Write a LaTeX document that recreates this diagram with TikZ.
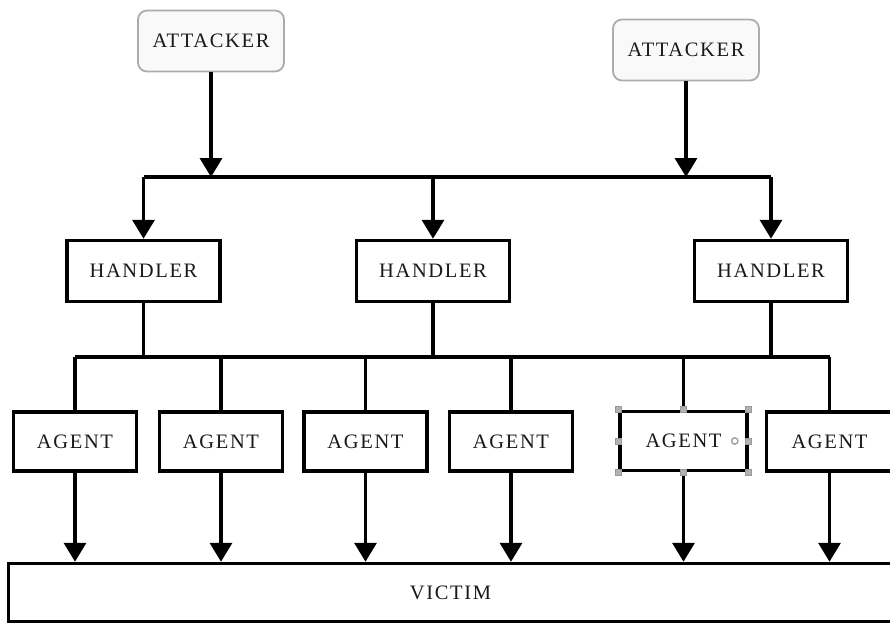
\documentclass[tikz,border=0pt]{standalone}
\usepackage{fontspec}
\setmainfont{Liberation Serif}[LetterSpace=8]
\usetikzlibrary{arrows.meta}
\begin{document}
\begin{tikzpicture}[x=1pt,y=-1pt,
  every node/.style={font=\fontsize{20.5}{24}\selectfont, text=black!90},
  conn/.style={line width=3.5pt, draw=black},
  arr/.style={conn, -{Triangle[width=22pt,length=19pt]}},
  attackerbox/.style={draw=gray!65, line width=1.8pt, fill=gray!5, rounded corners=9pt,
    minimum width=146pt, minimum height=61pt, inner sep=0pt},
  handlerbox/.style={draw=black, line width=3.5pt, fill=white,
    minimum width=153pt, minimum height=61pt, inner sep=0pt},
  agentbox/.style={draw=black, line width=3.5pt, fill=white,
    minimum width=123pt, minimum height=59pt, inner sep=0pt},
  victimbox/.style={draw=black, line width=3.5pt, fill=white,
    minimum width=884pt, minimum height=58pt, inner sep=0pt},
  grip/.style={fill=gray!60, draw=gray!80, line width=0.6pt}
]
\useasboundingbox (0,0) rectangle (890,626);

% attackers
\node[attackerbox] (att1) at (211,41) {ATTACKER};
\node[attackerbox] (att2) at (686,50) {ATTACKER};

% handlers
\node[handlerbox] (h1) at (143.5,271) {HANDLER};
\node[handlerbox] (h2) at (433,271) {HANDLER};
\node[handlerbox] (h3) at (771,271) {HANDLER};

% agents
\node[agentbox] (ag1) at (75,441.5) {AGENT};
\node[agentbox] (ag2) at (221,441.5) {AGENT};
\node[agentbox] (ag3) at (365.5,441.5) {AGENT};
\node[agentbox] (ag4) at (511,441.5) {AGENT};
\node[agentbox, minimum width=127pt] (ag5) at (683.5,441) {AGENT};
\node[agentbox, minimum width=126pt] (ag6) at (829.5,441.5) {AGENT};

% victim
\node[victimbox] (vic) at (450.5,592.5) {VICTIM};

% bus levels
\coordinate (busA) at (0,177);
\coordinate (busB) at (0,357);

% attackers to the handler bus
\draw[conn] (h1.north |- busA) -- (h3.north |- busA);
\draw[arr] (att1.south) -- (att1.south |- busA);
\draw[arr] (att2.south) -- (att2.south |- busA);
\foreach \h in {h1,h2,h3}
  \draw[arr] (\h.north |- busA) -- (\h.north);

% handlers to the agent bus
\draw[conn] (ag1.north |- busB) -- (ag6.north |- busB);
\foreach \h in {h1,h2,h3}
  \draw[conn] (\h.south) -- (\h.south |- busB);
\foreach \a in {ag1,ag2,ag3,ag4,ag5,ag6}
  \draw[conn] (\a.north |- busB) -- (\a.north);

% agents to the victim
\foreach \a in {ag1,ag2,ag3,ag4,ag5,ag6}
  \draw[arr] (\a.south) -- (\a.south |- vic.north);

% selection grips around the fifth agent
\foreach \p in {north west,north,north east,east,south east,south,south west,west}
  \fill[grip] (ag5.\p) ++(-3,-3) rectangle ++(6,6);
\draw[gray!75, line width=1.4pt] ([xshift=-14pt]ag5.east) circle (3.2pt);
\end{tikzpicture}
\end{document}
